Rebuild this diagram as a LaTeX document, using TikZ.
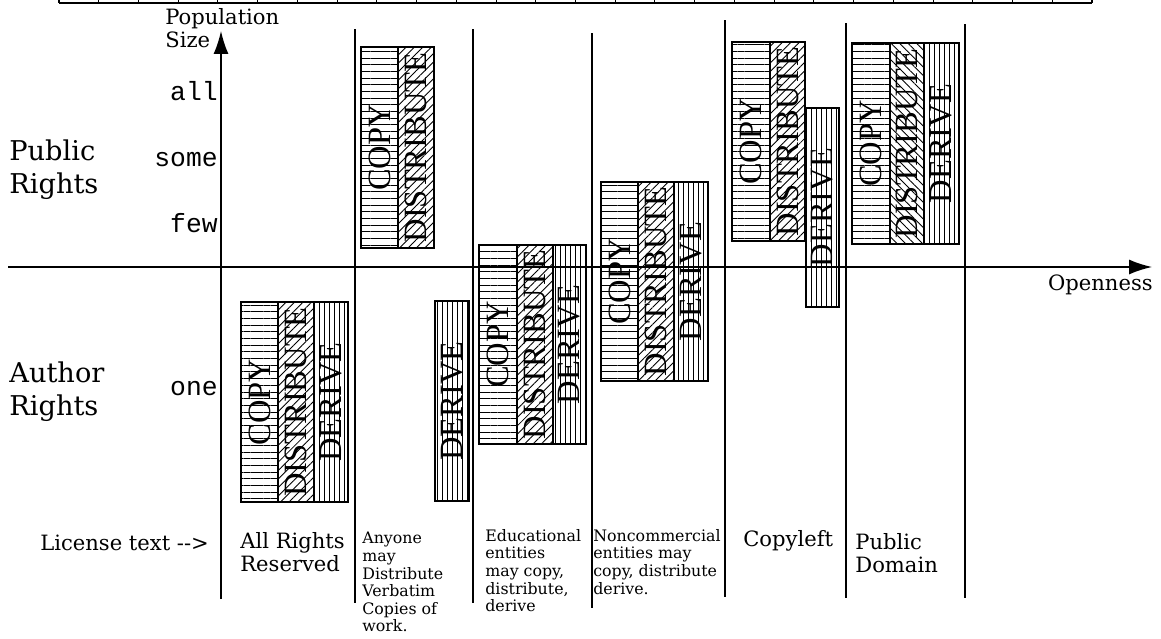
\documentclass[tikz,border=0pt]{standalone}
\usepackage{fontspec}
\setmainfont{DejaVu Serif}
\newfontfamily\colfont{Liberation Serif}
\newfontfamily\tickfont{Liberation Mono}
\usepackage{tikz}
\usetikzlibrary{arrows.meta,patterns.meta}
\tikzset{
   copycol/.style={draw, line width=0.85pt, pattern={Lines[angle=0,distance=3.8pt,line width=0.5pt]}},
   distcol/.style={draw, line width=0.85pt, pattern={Lines[angle=45,distance=3.4pt,line width=0.5pt]}},
   distcolb/.style={draw, line width=0.85pt, pattern={Lines[angle=-45,distance=3.4pt,line width=0.5pt]}},
   derivecol/.style={draw, line width=0.85pt, pattern={Lines[angle=90,distance=2.8pt,line width=0.5pt]}},
   coltext/.style={rotate=90, inner sep=0pt, font=\colfont\fontsize{18.5}{18.5}\selectfont},
   axis/.style={line width=0.85pt, -{Latex[length=13pt,width=8.5pt]}},
   sepline/.style={line width=0.7pt},
   ruler/.style={line width=0.6pt},
   sidelabel/.style={inner sep=0pt, align=left, font=\fontsize{15.5}{19.3}\selectfont},
   ticklabel/.style={inner sep=0pt, font=\tickfont\fontsize{15}{15}\selectfont},
   axislabel/.style={inner sep=0pt, align=left, font=\fontsize{12}{13}\selectfont},
   licname/.style={inner sep=0pt, align=left, anchor=north west, font=\fontsize{12}{13}\selectfont},
   lictext/.style={inner sep=0pt, align=left, anchor=north west, font=\fontsize{9}{10}\selectfont}
}
\begin{document}
\begin{tikzpicture}[x=0.02cm, y=-0.02cm]
\useasboundingbox (0,0) rectangle (1161,639);
\draw[ruler] (59,3) -- (1092,3);
\foreach \i in {0,...,26}
	\draw[ruler] ({59+\i*39.73},0) -- ({59+\i*39.73},3);

\coordinate (ybot) at (221,599);
\coordinate (ytop) at (221,31);
\coordinate (xleft) at (8,267);
\coordinate (xright) at (1152,267);
\draw[axis] (ybot) -- (ytop);
\draw[axis] (xleft) -- (xright);
\foreach \X/\T/\B in {355/29/603,473/29/603,592/33/608,725/20/597,846/23/598,965/24/598}
	\draw[sepline] (\X,\T) -- (\X,\B);

\node[axislabel, anchor=north west] (popsize) at (165,8) {Population\\Size};
\node[axislabel, anchor=base east] (openness) at (1153,290) {Openness};
\foreach \Y/\T in {100/all,166/some,232/few,395/one}
	\node[ticklabel, anchor=base east] (tick\T) at (218,\Y) {\T};
\node[sidelabel, anchor=north west] (pubrights) at (9,139) {Public\\Rights};
\node[sidelabel, anchor=north west] (autrights) at (9,361) {Author\\Rights};

\foreach \xa/\xb/\ya/\yb/\kind/\lab [count=\i] in {
	241/278/302/502/copycol/COPY, 278/314/302/502/distcol/DISTRIBUTE, 314/348/302/502/derivecol/DERIVE,
	361/398/47/248/copycol/COPY, 398/434/47/248/distcol/DISTRIBUTE, 435/469/301/501/derivecol/DERIVE,
	479/517/245/444/copycol/COPY, 517/553/245/444/distcol/DISTRIBUTE, 553/586/245/444/derivecol/DERIVE,
	601/638/182/381/copycol/COPY, 638/674/182/381/distcol/DISTRIBUTE, 674/708/182/381/derivecol/DERIVE,
	732/770/42/241/copycol/COPY, 770/805/42/241/distcol/DISTRIBUTE, 806/839/108/307/derivecol/DERIVE,
	852/890/43/244/copycol/COPY, 890/924/43/244/distcolb/DISTRIBUTE, 924/959/43/244/derivecol/DERIVE}{
	\draw[\kind] (\xa,\ya) rectangle (\xb,\yb);
	\node[coltext] (col\i) at ({(\xa+\xb)/2},{(\ya+\yb)/2}) {\lab};
}

\node[licname] (lictext) at (40,535) {License text {-}{-}>};
\node[licname] (allrights) at (240,532) {All Rights\\Reserved};
\node[lictext] (verbatim) at (362,532) {Anyone\\may\\Distribute\\Verbatim\\Copies of\\work.};
\node[lictext] (educational) at (485,529) {Educational\\entities\\may copy,\\distribute,\\derive};
\node[lictext] (noncommercial) at (593,529) {Noncommercial\\entities may\\copy, distribute\\derive.};
\node[licname] (copyleft) at (743,530) {Copyleft};
\node[licname] (pubdomain) at (855,533) {Public\\Domain};
\end{tikzpicture}
\end{document}
